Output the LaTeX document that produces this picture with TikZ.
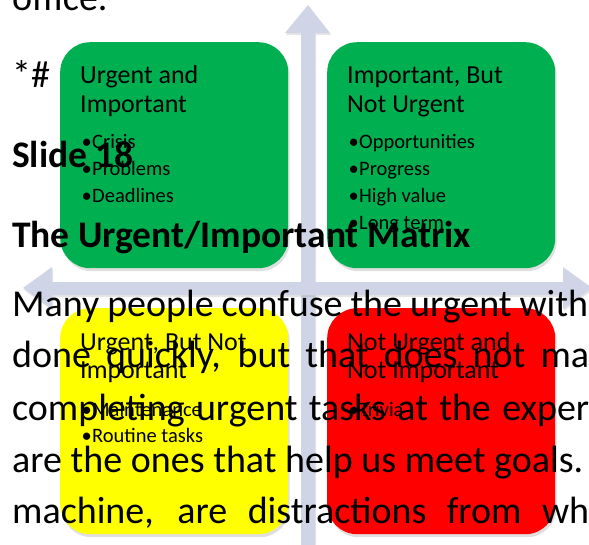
\documentclass[tikz,border=0pt]{standalone}
\usepackage{fontspec}
\setmainfont{Carlito}
\usepackage{tikz}
\usetikzlibrary{
  shadows,
  backgrounds
}
\definecolor{axisgray}{RGB}{207,213,231}
\definecolor{quadgreen}{RGB}{0,176,80}
\definecolor{quadyellow}{RGB}{255,255,0}
\definecolor{quadred}{RGB}{255,0,0}
\newcommand{\bitem}[1]{\makebox[10.5pt][l]{\textbullet}#1}
\newcommand{\jline}[2]{\makebox[#1][s]{#2}}

\begin{document}
\begin{tikzpicture}
  [
    x=1pt, y=-1pt,
    axis/.style={fill=axisgray, drop shadow={opacity=.2, shadow xshift=1pt, shadow yshift=-2pt}},
    quad/.style={rounded corners=30pt, minimum width=228pt, minimum height=226pt,
      anchor=north west, inner sep=0pt,
      drop shadow={opacity=.25, shadow xshift=1.5pt, shadow yshift=-3pt}},
    UI/.style={quad, fill=quadgreen},
    INU/.style={quad, fill=quadgreen},
    UNI/.style={quad, fill=quadyellow},
    NUNI/.style={quad, fill=quadred},
    ttl/.style={anchor=base west, inner sep=0pt, font=\fontsize{26}{30}\selectfont},
    itm/.style={anchor=base west, inner sep=0pt, font=\fontsize{20.5}{25}\selectfont},
    body/.style={anchor=base west, inner sep=0pt, font=\fontsize{38}{44}\selectfont},
    head/.style={body, font=\fontsize{37.5}{44}\selectfont\bfseries},
  ]
  \useasboundingbox (0,0) rectangle (589,544);
  \fill[white] (0,0) rectangle (589,544);
  \clip (0,0) rectangle (589,544);

  % axes
  \path[axis] (301,560) -- (301,33) -- (285,33) -- (308,5) -- (330,33) -- (315,33) -- (315,560) -- cycle;
  \path[axis] (23,288) -- (52,267) -- (52,282) -- (563,282) -- (563,267) -- (592,288)
    -- (563,309) -- (563,295) -- (52,295) -- (52,309) -- cycle;

  % quadrants
  \node [UI] (UI) at (60,42) {};
  \node [INU] (INU) at (327,42) {};
  \node [UNI] (UNI) at (60,308) {};
  \node [NUNI] (NUNI) at (327,308) {};

  % page text behind the matrix
  \node [body] (office) at (12,10) {office.};
  \node [body] (mark) at (12,87) {*\#};
  \node [head] (slide) at (12,167) {Slide 18};
  \node [head] (title) at (12,247) {The Urgent/Important Matrix};
  \node [body] (l1) at (12,316) {\jline{576pt}{Many people confuse the urgent with}};
  \node [body] (l2) at (12,367) {\jline{577pt}{done quickly, but that does not ma}};
  \node [body] (l3) at (12,420) {\jline{577pt}{completing urgent tasks at the exper}};
  \node [body] (l4) at (12,472) {\jline{571pt}{are the ones that help us meet goals.}};
  \node [body] (l5) at (12,523) {\jline{577pt}{machine, are distractions from wh}};

  % urgent and important
  \node [ttl] (UIa) at (80,83) {Urgent and};
  \node [ttl] (UIb) at (80,112.5) {Important};
  \node [itm] (UI1) at (81.5,148) {\bitem{Crisis}};
  \node [itm] (UI2) at (81.5,175.5) {\bitem{Problems}};
  \node [itm] (UI3) at (81.5,202.5) {\bitem{Deadlines}};

  % important, not urgent
  \node [ttl] (INUa) at (347,83) {Important, But};
  \node [ttl] (INUb) at (347,112.5) {Not Urgent};
  \node [itm] (INU1) at (348.5,148) {\bitem{Opportunities}};
  \node [itm] (INU2) at (348.5,175.5) {\bitem{Progress}};
  \node [itm] (INU3) at (348.5,202.5) {\bitem{High value}};
  \node [itm] (INU4) at (348.5,229) {\bitem{Long term}};

  % urgent, not important
  \node [ttl] (UNIa) at (80,350) {Urgent, But Not};
  \node [ttl] (UNIb) at (80,378) {Important};
  \node [itm] (UNI1) at (81.5,416.5) {\bitem{Maintenance}};
  \node [itm] (UNI2) at (81.5,442) {\bitem{Routine tasks}};

  % not urgent, not important
  \node [ttl] (NUNIa) at (347,350) {Not Urgent and};
  \node [ttl] (NUNIb) at (347,378) {Not Important};
  \node [itm] (NUNI1) at (348.5,416.5) {\bitem{Trivia}};
\end{tikzpicture}
\end{document}
